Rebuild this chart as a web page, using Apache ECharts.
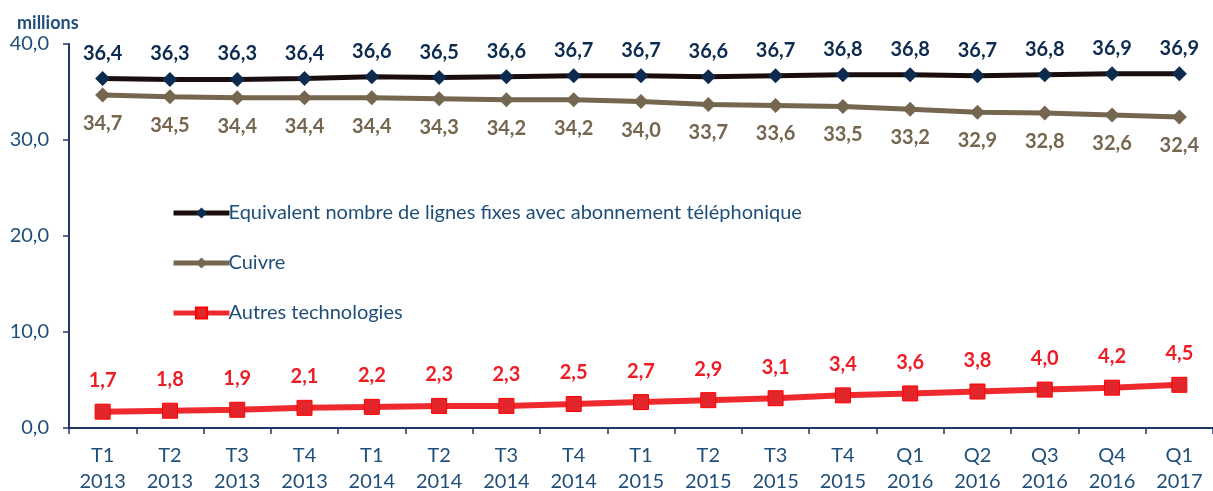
<!DOCTYPE html>
<html>
<head>
<meta charset="utf-8">
<script src="https://cdn.jsdelivr.net/npm/echarts@6/dist/echarts.min.js"></script>
<style>
  html, body { margin: 0; padding: 0; background: #fff; }
  #chart { width: 1213px; height: 491px; }
</style>
</head>
<body>
<div id="chart"></div>
<script>
// trimestres
const categories = [
  'T1\n2013', 'T2\n2013', 'T3\n2013', 'T4\n2013',
  'T1\n2014', 'T2\n2014', 'T3\n2014', 'T4\n2014',
  'T1\n2015', 'T2\n2015', 'T3\n2015', 'T4\n2015',
  'Q1\n2016', 'Q2\n2016', 'Q3\n2016', 'Q4\n2016', 'Q1\n2017'
];
const equivalent = [36.4, 36.3, 36.3, 36.4, 36.6, 36.5, 36.6, 36.7, 36.7, 36.6, 36.7, 36.8, 36.8, 36.7, 36.8, 36.9, 36.9];
const cuivre = [34.7, 34.5, 34.4, 34.4, 34.4, 34.3, 34.2, 34.2, 34.0, 33.7, 33.6, 33.5, 33.2, 32.9, 32.8, 32.6, 32.4];
const autres = [1.7, 1.8, 1.9, 2.1, 2.2, 2.3, 2.3, 2.5, 2.7, 2.9, 3.1, 3.4, 3.6, 3.8, 4.0, 4.2, 4.5];

const FONT = 'Lato, "Open Sans", sans-serif';
const virgule = v => v.toFixed(1).replace('.', ',');

const chart = echarts.init(document.getElementById('chart'));

chart.setOption({
  animation: false,
  title: {
    text: 'millions',
    left: 12, top: 9,
    textStyle: { fontFamily: FONT, fontSize: 18, fontWeight: 'bold', color: '#1F4E79' }
  },
  legend: {
    orient: 'vertical',
    left: 166, top: 198,
    itemWidth: 56, itemHeight: 14, itemGap: 30,
    lineStyle: { width: 5 },
    textStyle: { fontFamily: FONT, fontSize: 20, color: '#1F4E79', padding: [0, 0, 0, -6] },
    data: ['Equivalent nombre de lignes fixes avec abonnement téléphonique', 'Cuivre', 'Autres technologies']
  },
  grid: { left: 69, right: 0, top: 44, bottom: 63, outerBoundsMode: 'none', containLabel: false },
  xAxis: {
    type: 'category',
    data: categories,
    boundaryGap: true,
    axisLine: { lineStyle: { color: '#1F3864', width: 2 } },
    axisTick: { show: true, length: 6, lineStyle: { color: '#1F3864', width: 1.5 } },
    axisLabel: { fontFamily: FONT, fontSize: 20, color: '#1F4E79', lineHeight: 26, margin: 15, interval: 0 }
  },
  yAxis: {
    type: 'value',
    min: 0, max: 40, interval: 10,
    axisLine: { show: true, lineStyle: { color: '#1F3864', width: 2 } },
    axisTick: { show: true, length: 6, lineStyle: { color: '#1F3864', width: 1.5 } },
    splitLine: { show: false },
    axisLabel: { fontFamily: FONT, fontSize: 20, color: '#1F4E79', margin: 20, formatter: virgule }
  },
  series: [
    {
      name: 'Equivalent nombre de lignes fixes avec abonnement téléphonique',
      type: 'line',
      data: equivalent,
      symbol: 'diamond', symbolSize: 15,
      lineStyle: { color: '#1A0D0D', width: 5 },
      itemStyle: { color: '#0D2B4E' },
      label: {
        show: true, position: 'top', distance: 8,
        fontFamily: FONT, fontSize: 20, fontWeight: 'bold', color: '#0D2B4E',
        formatter: p => virgule(p.value)
      }
    },
    {
      name: 'Cuivre',
      type: 'line',
      data: cuivre,
      symbol: 'diamond', symbolSize: 15,
      lineStyle: { color: '#74664F', width: 5 },
      itemStyle: { color: '#74664F' },
      label: {
        show: true, position: 'bottom', distance: 11,
        fontFamily: FONT, fontSize: 20, fontWeight: 'bold', color: '#74664F',
        formatter: p => virgule(p.value)
      }
    },
    {
      name: 'Autres technologies',
      type: 'line',
      data: autres,
      symbol: 'rect', symbolSize: 15,
      lineStyle: { color: '#EE2A2E', width: 6 },
      itemStyle: { color: '#E3262B', borderColor: '#FF0000', borderWidth: 1 },
      label: {
        show: true, position: 'top', distance: 13,
        fontFamily: FONT, fontSize: 20, fontWeight: 'bold', color: '#EE1C25',
        formatter: p => virgule(p.value)
      }
    }
  ]
});
</script>
</body>
</html>
